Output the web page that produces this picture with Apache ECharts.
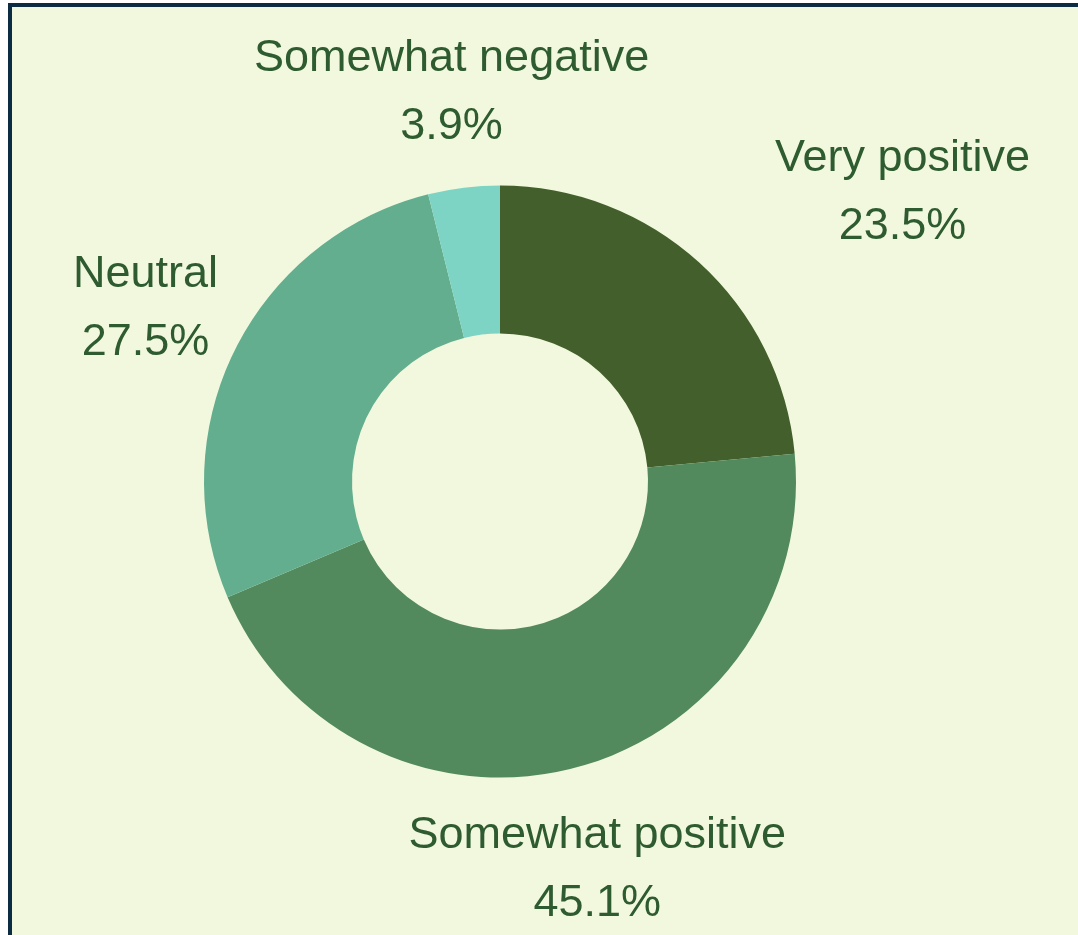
<!DOCTYPE html>
<html>
<head>
<meta charset="utf-8">
<script src="https://cdn.jsdelivr.net/npm/echarts@6/dist/echarts.min.js"></script>
<style>
html, body { margin:0; padding:0; background:#ffffff; width:1078px; height:935px; overflow:hidden; }
#frame { position:absolute; left:8px; top:3px; right:0; bottom:0; background:#f2f8dd; border-left:4px solid #0c2c43; border-top:4px solid #0c2c43; }
#chart { position:absolute; left:0; top:0; width:1078px; height:935px; }
</style>
</head>
<body>
<div id="frame"></div>
<div id="chart"></div>
<script>
const categories = ['Very positive', 'Somewhat positive', 'Neutral', 'Somewhat negative'];
const values = [23.5, 45.1, 27.5, 3.9];
const colors = ['#435f2b', '#528a5d', '#63ae8f', '#7ed4c4'];

const center = [500, 481.5];
const radii = [148, 296];
const labelDist = 396;
const labelNudgeX = [136, 0, 0, 0];
const labelNudgeY = 4;

const total = values.reduce((a, b) => a + b, 0);
function labelPos(i) {
  let before = 0;
  for (let k = 0; k < i; k++) before += values[k];
  const mid = (before + values[i] / 2) / total * Math.PI * 2;
  return [center[0] + Math.sin(mid) * labelDist + labelNudgeX[i], center[1] - Math.cos(mid) * labelDist + labelNudgeY];
}

const chart = echarts.init(document.getElementById('chart'));
chart.setOption({
  backgroundColor: 'transparent',
  animation: false,
  series: [{
    type: 'pie',
    center: center,
    radius: radii,
    startAngle: 90,
    clockwise: true,
    data: categories.map((c, i) => ({ name: c, value: values[i], itemStyle: { color: colors[i] } })),
    itemStyle: { borderWidth: 0 },
    label: {
      show: true,
      position: 'outside',
      formatter: p => p.name + '\n' + p.value.toFixed(1) + '%',
      color: '#2e5b30',
      fontFamily: 'Liberation Sans, Arial, sans-serif',
      fontSize: 45,
      lineHeight: 68,
      align: 'center'
    },
    labelLine: { show: false },
    labelLayout: params => {
      const p = labelPos(params.dataIndex);
      return { x: p[0], y: p[1], align: 'center', verticalAlign: 'middle', hideOverlap: false };
    }
  }]
});
</script>
</body>
</html>
